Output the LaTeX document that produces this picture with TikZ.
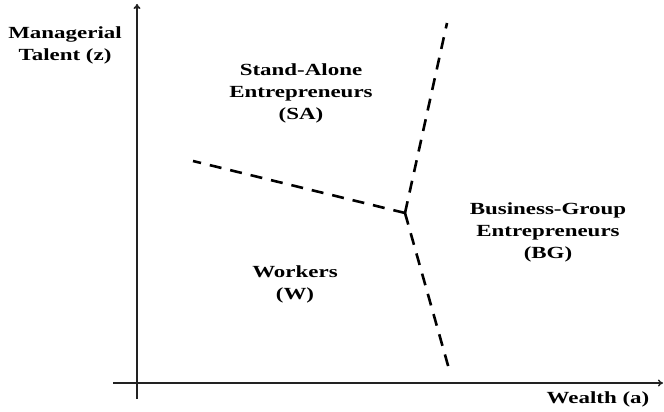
\documentclass[tikz,border=0pt]{standalone}
\usepackage{fontspec}
\setmainfont{Liberation Serif}
\usepackage{xcolor}
\usetikzlibrary{arrows.meta}
\definecolor{ink}{HTML}{000000}
\definecolor{axisgray}{HTML}{222222}
\tikzset{
  axis/.style={draw=axisgray, line width=1.4pt, -{To[length=5pt,width=7pt]}},
  border/.style={draw=ink, line width=2.6pt, dash pattern=on 12pt off 9pt},
  lab/.style={text=ink, font=\bfseries\fontsize{17}{22}\selectfont, align=center, xscale=1.35, inner sep=0pt},
}

\begin{document}
\begin{tikzpicture}[x=1pt, y=-1pt]
  \useasboundingbox (0,0) rectangle (664,412);
  \coordinate (O) at (137,383);
  \coordinate (xbeg) at (113,383);
  \coordinate (xend) at (663,383);
  \coordinate (ybeg) at (137,399);
  \coordinate (yend) at (137,4);
  \draw[axis] (xbeg) -- (xend);
  \draw[axis, line width=1.8pt] (ybeg) -- (yend);
  \coordinate (kink) at (405,213);
  \coordinate (saTop) at (447,23);
  \coordinate (wLeft) at (193,161);
  \coordinate (bgBot) at (449,369);
  \draw[border] (kink) -- (saTop);
  \draw[border] (kink) -- (wLeft);
  \draw[border] (kink) -- (bgBot);
  \node[lab] (ylab) at (65,45) {Managerial\\Talent (z)};
  \node[lab, anchor=base] (xlab) at (598,403) {Wealth (a)};
  \node[lab] (sa) at (301,93) {Stand-Alone\\Entrepreneurs\\(SA)};
  \node[lab] (bg) at (548,232) {Business-Group\\Entrepreneurs\\(BG)};
  \node[lab] (w) at (295,284) {Workers\\(W)};
\end{tikzpicture}
\end{document}
